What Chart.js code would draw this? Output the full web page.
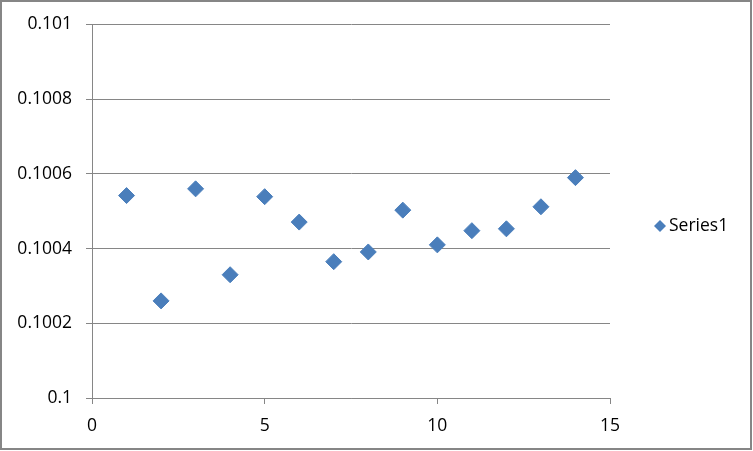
<!DOCTYPE html>
<html>
<head>
<meta charset="utf-8">
<script src="https://cdn.jsdelivr.net/npm/chart.js@4/dist/chart.umd.min.js"></script>
<style>
  html, body { margin: 0; padding: 0; background: #fff; }
  #wrap { width: 753px; height: 451px; position: relative; }
</style>
</head>
<body>
<div id="wrap"><canvas id="chart" width="753" height="451"></canvas></div>
<script>
// x positions and y values
const xValues = [1, 2, 3, 4, 5, 6, 7, 8, 9, 10, 11, 12, 13, 14];
const yValues = [0.100542, 0.100260, 0.100560, 0.100330, 0.100539, 0.100471, 0.100365,
                 0.100391, 0.100503, 0.100410, 0.100448, 0.100453, 0.100512, 0.100590];
const seriesName = "Series1";
const xTicks = [0, 5, 10, 15];
const yTicks = [0.1, 0.1002, 0.1004, 0.1006, 0.1008, 0.101];

const axisGray = "#868686";
const blue = "#4a7ebb";
const tickFont = { family: "Open Sans", size: 17.5 };

// frame round the whole picture + the legend on the right
const framePlugin = {
  id: "frame",
  afterDraw(chart) {
    const ctx = chart.ctx;
    ctx.save();
    ctx.strokeStyle = axisGray;
    ctx.lineWidth = 2;
    ctx.strokeRect(1, 1, 750, 448);

    // legend
    const ds = chart.data.datasets[0];
    const cx = 660, cy = 226, r = 6;
    ctx.fillStyle = ds.backgroundColor;
    ctx.beginPath();
    ctx.moveTo(cx - r, cy);
    ctx.lineTo(cx, cy - r);
    ctx.lineTo(cx + r, cy);
    ctx.lineTo(cx, cy + r);
    ctx.closePath();
    ctx.fill();
    ctx.fillStyle = "#000";
    ctx.font = "17.5px 'Open Sans'";
    ctx.textBaseline = "middle";
    ctx.textAlign = "left";
    ctx.fillText(ds.label, 669, cy);
    ctx.restore();
  }
};

new Chart(document.getElementById("chart"), {
  type: "scatter",
  data: {
    datasets: [{
      label: seriesName,
      data: xValues.map((x, i) => ({ x: x, y: yValues[i] })),
      backgroundColor: blue,
      borderColor: blue,
      borderWidth: 1,
      pointStyle: "rectRot",
      pointRadius: 8,
      pointHoverRadius: 8
    }]
  },
  options: {
    responsive: false,
    animation: false,
    layout: { padding: { left: 0, top: 24, right: 143, bottom: 13 } },
    plugins: {
      legend: { display: false },
      tooltip: { enabled: false }
    },
    scales: {
      x: {
        type: "linear",
        min: 0,
        max: 15,
        afterBuildTicks: (scale) => { scale.ticks = xTicks.map(v => ({ value: v })); },
        afterFit: (scale) => { scale.height = 40; },
        ticks: { color: "#000", font: tickFont, padding: 12, maxRotation: 0 },
        grid: { drawOnChartArea: false, drawTicks: true, tickLength: 6, color: axisGray },
        border: { display: true, color: axisGray }
      },
      y: {
        type: "linear",
        min: 0.1,
        max: 0.101,
        afterBuildTicks: (scale) => { scale.ticks = yTicks.map(v => ({ value: v })); },
        afterFit: (scale) => { scale.width = 92; },
        ticks: {
          color: "#000",
          font: tickFont,
          padding: 14,
          callback: (v) => String(parseFloat(v.toFixed(5)))
        },
        grid: { color: axisGray, lineWidth: 1, tickLength: 6 },
        border: { display: true, color: axisGray }
      }
    }
  },
  plugins: [framePlugin]
});
</script>
</body>
</html>
